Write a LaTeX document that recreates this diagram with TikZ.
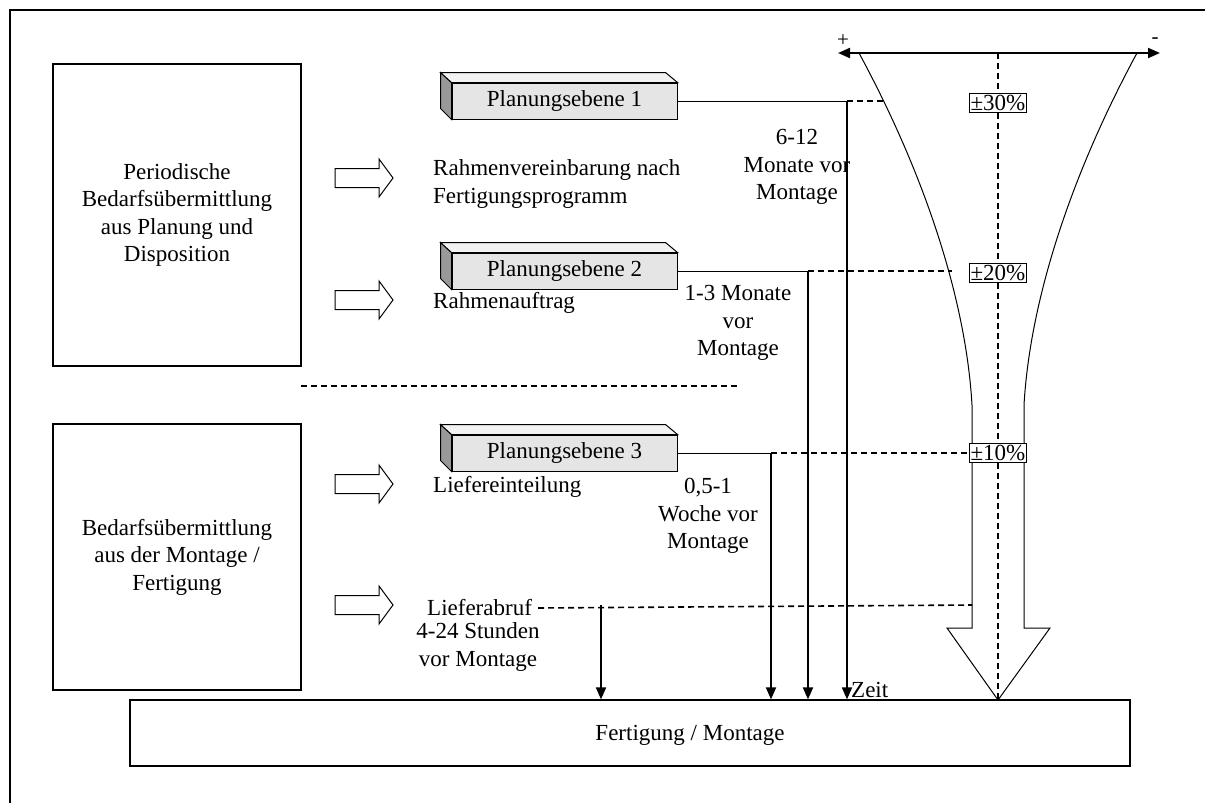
\documentclass[tikz,border=0pt]{standalone}
\usepackage{fontspec}
\setmainfont{Liberation Serif}
\usetikzlibrary{arrows.meta}

\tikzset{
  txt/.style={font=\fontsize{23}{27.5}\selectfont, inner sep=0pt, align=center},
  ltxt/.style={font=\fontsize{23}{27.5}\selectfont, inner sep=0pt, align=left, anchor=west},
  sidebox/.style={draw, line width=1.2pt, minimum width=248pt, minimum height=#1, inner sep=0pt,
    font=\fontsize{23}{27.5}\selectfont, align=center},
  planbox/.style={draw, line width=1pt, fill=black!10, minimum width=225pt, minimum height=36pt,
    inner sep=0pt, font=\fontsize{23}{27.5}\selectfont},
  pct/.style={draw, line width=1pt, fill=white, inner sep=1.5pt, font=\fontsize{23}{27.5}\selectfont},
  thinline/.style={line width=1pt},
  dsh/.style={line width=1.6pt, dash pattern=on 6pt off 4pt},
  timearrow/.style={line width=1.8pt, -{Triangle[length=12pt,width=10pt]}},
  blockarr/.pic={\draw[line width=1pt, fill=white] (0,-9.5) -- (44,-9.5) -- (44,-19) -- (58,0)
      -- (44,19) -- (44,9.5) -- (0,9.5) -- cycle;}
}

\begin{document}
\begin{tikzpicture}[x=1pt,y=-1pt]
\useasboundingbox (0,0) rectangle (1205,803);

% outer frame (open to the right and bottom)
\draw[line width=1.3pt] (10,803) -- (10,10) -- (1205,10);

% left-hand boxes
\node[sidebox=302pt] (ba) at (177,215) {Periodische\\Bedarfsübermittlung\\aus Planung und\\Disposition};
\node[sidebox=266pt] (bb) at (177,557) {Bedarfsübermittlung\\aus der Montage /\\Fertigung};

% separator
\coordinate (s1) at (301,386);
\coordinate (s2) at (740,386);
\draw[dsh] (s1) -- (s2);

% block arrows
\pic at (335,178) {blockarr};
\pic at (335,300) {blockarr};
\pic at (335,484) {blockarr};
\pic at (335,605) {blockarr};

% arrow labels
\node[ltxt] (t1) at (433,184) {Rahmenvereinbarung nach\\Fertigungsprogramm};
\node[ltxt] (t2) at (433,303) {Rahmenauftrag};
\node[ltxt] (t3) at (433,487) {Liefereinteilung};
\node[ltxt] (t4) at (427,608) {Lieferabruf};
\node[txt] (t5) at (478,647) {4-24 Stunden\\vor Montage};

% planning levels (3D boxes)
\foreach \n/\y in {1/101, 2/271, 3/453}{
  \node[planbox] (p\n) at (564.5,\y) {Planungsebene \n};
  \filldraw[line width=1pt, fill=black!40] (p\n.north west) -- ++(-11,-10) -- ++(0,36) -- (p\n.south west) -- cycle;
  \filldraw[line width=1pt, fill=black!5] (p\n.north west) -- ++(-11,-10) -- ++(225,0) -- (p\n.north east) -- cycle;
}

% bottom bar
\node[draw, line width=1.2pt, minimum width=1000pt, minimum height=66pt, inner sep=0pt] (fm) at (630,733) {};
\node[txt] (fmt) at (690,735) {Fertigung / Montage};

% funnel
\draw[thinline] (859,53) .. controls (925,175) and (966,300) .. (972,405) -- (972,628) -- (947,628)
  -- (998,700) -- (1050,628) -- (1024,628) -- (1024,405) .. controls (1030,300) and (1071,175) .. (1137,53);
\coordinate (fl) at (838,53);
\coordinate (fr) at (1160,53);
\coordinate (ftop) at (998,53);
\coordinate (ftip) at (998,700);
\draw[line width=2pt, {Triangle[length=12pt,width=10pt]}-{Triangle[length=12pt,width=10pt]}] (fl) -- (fr);
\node[font=\fontsize{21}{21}\selectfont, inner sep=0pt] (plus) at (843,41) {+};
\node[font=\fontsize{21}{21}\selectfont, inner sep=0pt] (minus) at (1155,41) {-};
\draw[dsh] (ftop) -- (ftip);
\node[pct] (q1) at (998,103) {±30\%};
\node[pct] (q2) at (998,273) {±20\%};
\node[pct] (q3) at (998,453) {±10\%};

% lead times
\coordinate (v1) at (847,101);
\coordinate (v2) at (808,271);
\coordinate (v3) at (771,453);
\coordinate (v4) at (601,605);
\coordinate (e1) at (883,101);
\coordinate (e2) at (952,271);
\coordinate (e3) at (q3.west);
\coordinate (e4) at (972,605);

\draw[thinline] (p1.east) -- (v1);
\draw[thinline] (p2.east) -- (v2);
\draw[thinline] (p3.east) -- (v3);
\draw[dsh] (v1) -- (e1);
\draw[dsh] (v2) -- (e2);
\draw[dsh] (v3) -- (e3);
\draw[dsh] ([xshift=6pt]t4.east) -- (e4);

\draw[timearrow] (v1) -- (v1 |- fm.north);
\draw[timearrow] (v2) -- (v2 |- fm.north);
\draw[timearrow] (v3) -- (v3 |- fm.north);
\draw[timearrow] (v4) -- (v4 |- fm.north);

\node[txt, anchor=south west] (zeit) at (851,698) {Zeit};
\node[txt] (l1) at (797,167) {6-12\\Monate vor\\Montage};
\node[txt] (l2) at (738,323) {1-3 Monate\\vor\\Montage};
\node[txt] (l3) at (708,516) {0,5-1\\Woche vor\\Montage};
\end{tikzpicture}
\end{document}
